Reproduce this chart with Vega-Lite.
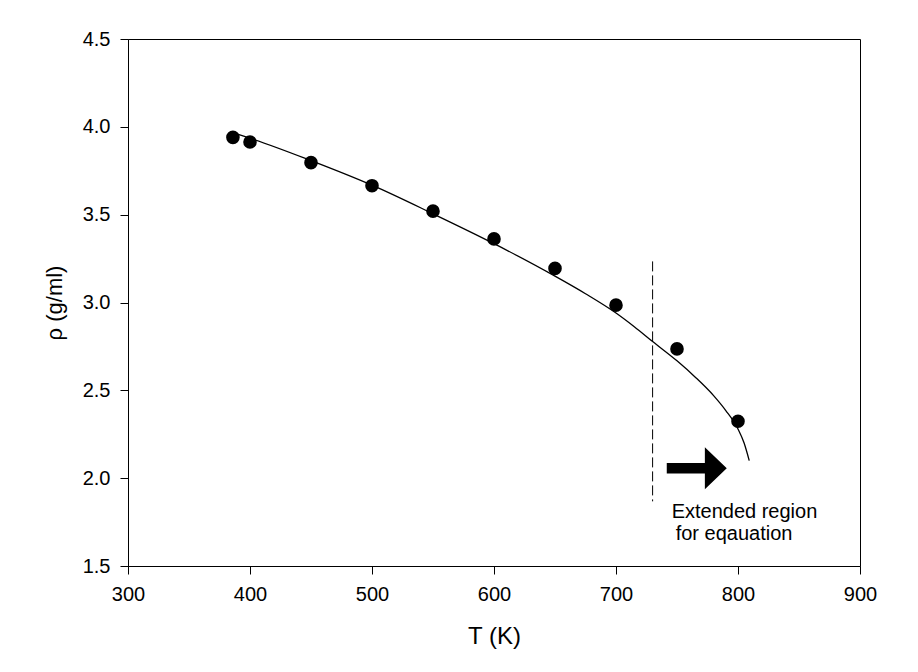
{
  "$schema": "https://vega.github.io/schema/vega-lite/v6.json",
  "width": 732,
  "height": 527,
  "autosize": {"type": "none"},
  "padding": {"left": 128, "top": 39, "right": 58, "bottom": 106},
  "background": "white",
  "config": {
    "view": {"stroke": "black", "strokeWidth": 1},
    "font": "Liberation Sans",
    "axis": {
      "grid": false,
      "domainColor": "black",
      "tickColor": "black",
      "labelColor": "black",
      "titleColor": "black",
      "labelFont": "Liberation Sans",
      "titleFont": "Liberation Sans",
      "labelFontSize": 20,
      "titleFontSize": 24,
      "titleFontWeight": "normal",
      "tickSize": 8,
      "domainWidth": 1,
      "tickWidth": 1,
      "labelFlush": false
    }
  },
  "datasets": {
    "pts": [
      {"T": 386, "rho": 3.94},
      {"T": 400, "rho": 3.914},
      {"T": 450, "rho": 3.796},
      {"T": 500, "rho": 3.665},
      {"T": 550, "rho": 3.52},
      {"T": 600, "rho": 3.362},
      {"T": 650, "rho": 3.194},
      {"T": 700, "rho": 2.985},
      {"T": 750, "rho": 2.736},
      {"T": 800, "rho": 2.324}
    ],
    "fit": [
      {"T": 386, "rho": 3.965},
      {"T": 400, "rho": 3.935},
      {"T": 450, "rho": 3.808},
      {"T": 500, "rho": 3.668},
      {"T": 550, "rho": 3.505},
      {"T": 600, "rho": 3.335},
      {"T": 650, "rho": 3.15},
      {"T": 675, "rho": 3.05},
      {"T": 700, "rho": 2.94},
      {"T": 715, "rho": 2.862},
      {"T": 730, "rho": 2.778},
      {"T": 750, "rho": 2.668},
      {"T": 765, "rho": 2.575},
      {"T": 780, "rho": 2.47},
      {"T": 790, "rho": 2.385},
      {"T": 800, "rho": 2.28},
      {"T": 805, "rho": 2.2},
      {"T": 809.2, "rho": 2.1}
    ],
    "cut": [
      {"T": 730, "y1": 3.234, "y2": 1.868}
    ],
    "arrow": [
      {"T": 766.2, "rho": 2.057}
    ],
    "notes": [
      {"T": 745.6, "rho": 1.773, "label": "Extended region"},
      {"T": 748.9, "rho": 1.65, "label": "for eqauation"}
    ]
  },
  "layer": [
    {
      "data": {"name": "fit"},
      "mark": {"type": "line", "color": "black", "strokeWidth": 1.3, "interpolate": "monotone"},
      "encoding": {
        "x": {
          "field": "T", "type": "quantitative",
          "scale": {"domain": [300, 900], "nice": false, "zero": false},
          "axis": {"title": "T (K)", "values": [300, 400, 500, 600, 700, 800, 900], "labelPadding": 10, "titlePadding": 20}
        },
        "y": {
          "field": "rho", "type": "quantitative",
          "scale": {"domain": [1.5, 4.5], "nice": false, "zero": false},
          "axis": {"title": "ρ (g/ml)", "values": [1.5, 2.0, 2.5, 3.0, 3.5, 4.0, 4.5], "format": ".1f", "labelPadding": 10, "titlePadding": 16, "titleFontSize": 22}
        }
      }
    },
    {
      "data": {"name": "pts"},
      "mark": {"type": "point", "shape": "circle", "filled": true, "color": "black", "opacity": 1, "size": 185},
      "encoding": {
        "x": {"field": "T", "type": "quantitative"},
        "y": {"field": "rho", "type": "quantitative"}
      }
    },
    {
      "data": {"name": "cut"},
      "mark": {"type": "rule", "color": "black", "strokeWidth": 1, "strokeDash": [10, 4]},
      "encoding": {
        "x": {"field": "T", "type": "quantitative"},
        "y": {"field": "y1", "type": "quantitative"},
        "y2": {"field": "y2"}
      }
    },
    {
      "data": {"name": "arrow"},
      "mark": {"type": "point", "shape": "M-1,-0.175L0.27,-0.175L0.27,-0.7L1,0L0.27,0.7L0.27,0.175L-1,0.175Z", "filled": true, "color": "black", "opacity": 1, "size": 3600},
      "encoding": {
        "x": {"field": "T", "type": "quantitative"},
        "y": {"field": "rho", "type": "quantitative"}
      }
    },
    {
      "data": {"name": "notes"},
      "mark": {"type": "text", "align": "left", "baseline": "alphabetic", "fontSize": 20, "color": "black", "font": "Liberation Sans"},
      "encoding": {
        "x": {"field": "T", "type": "quantitative"},
        "y": {"field": "rho", "type": "quantitative"},
        "text": {"field": "label"}
      }
    }
  ]
}
